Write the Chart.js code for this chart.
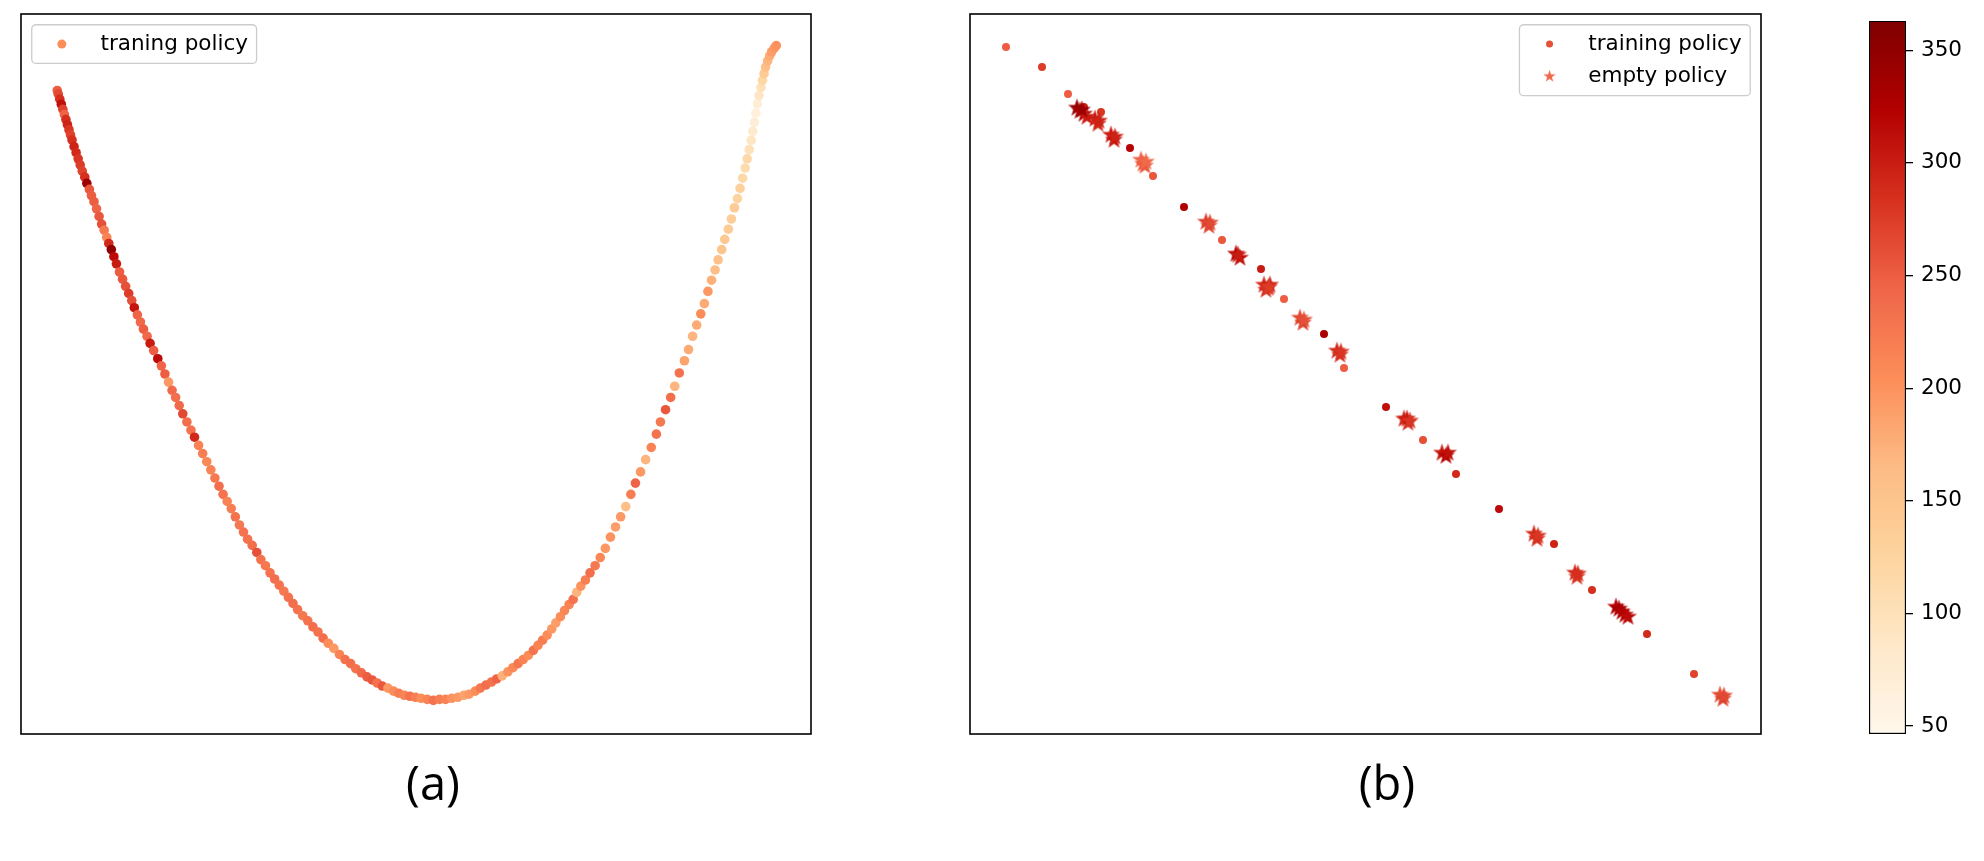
<!DOCTYPE html>
<html>
<head>
<meta charset="utf-8">
<script src="https://cdn.jsdelivr.net/npm/chart.js@4.4.1/dist/chart.umd.min.js"></script>
<style>
  body { margin: 0; background: #fff; width: 1984px; height: 861px; overflow: hidden; position: relative; }
  canvas { position: absolute; top: 0; }
  .cap { position: absolute; width: 200px; text-align: center; font-family: 'Open Sans'; font-size: 47px; line-height: 47px; color: #000; }
</style>
</head>
<body>
<canvas id="chartA" width="900" height="861" style="left:0px"></canvas>
<canvas id="chartB" width="880" height="861" style="left:940px"></canvas>
<canvas id="chartC" width="144" height="861" style="left:1840px"></canvas>
<div class="cap" style="left:333px;top:759px">(a)</div>
<div class="cap" style="left:1287px;top:759px">(b)</div>
<script>
// (a) training policy embedding
var aX = [
  1.13,1.15,1.18,1.21,1.24,1.27,1.30,1.33,1.36,1.39,
  1.42,1.46,1.50,1.54,1.58,1.62,1.67,1.71,1.76,1.80,
  1.85,1.90,1.95,2.00,2.05,2.10,2.14,2.19,2.24,2.29,
  2.35,2.41,2.47,2.53,2.59,2.64,2.70,2.76,2.82,2.89,
  2.95,3.02,3.10,3.17,3.24,3.31,3.38,3.45,3.52,3.59,
  3.67,3.75,3.82,3.90,3.98,4.06,4.14,4.22,4.30,4.38,
  4.46,4.54,4.62,4.70,4.78,4.86,4.95,5.04,5.12,5.21,
  5.30,5.39,5.48,5.57,5.66,5.75,5.84,5.94,6.04,6.14,
  6.24,6.34,6.44,6.55,6.66,6.77,6.88,6.98,7.09,7.20,
  7.30,7.40,7.50,7.61,7.72,7.82,7.93,8.04,8.15,8.26,
  8.38,8.50,8.62,8.74,8.86,8.98,9.10,9.20,9.32,9.42,
  9.53,9.64,9.74,9.85,9.96,10.06,10.16,10.26,10.36,10.46,
  10.55,10.64,10.73,10.82,10.90,10.99,11.07,11.16,11.24,11.31,
  11.39,11.48,11.57,11.67,11.77,11.87,11.97,12.07,12.17,12.27,
  12.37,12.46,12.56,12.66,12.77,12.87,12.95,13.05,13.15,13.23,
  13.32,13.42,13.50,13.58,13.66,13.74,13.81,13.88,13.95,14.02,
  14.08,14.15,14.21,14.28,14.34,14.40,14.46,14.51,14.56,14.61,
  14.65,14.69,14.73,14.76,14.79,14.82,14.85,14.88,14.92,14.95,
  14.98,15.01,15.05,15.09,15.13,15.18,15.22
];
var aY = [
  13.22,13.15,13.05,12.95,12.85,12.75,12.65,12.55,12.45,12.35,
  12.25,12.12,12.00,11.88,11.76,11.64,11.52,11.40,11.28,11.16,
  11.04,10.90,10.75,10.60,10.48,10.34,10.22,10.10,9.96,9.82,
  9.66,9.52,9.38,9.24,9.10,8.96,8.82,8.68,8.54,8.40,
  8.26,8.12,7.96,7.82,7.66,7.50,7.34,7.20,7.04,6.88,
  6.72,6.56,6.42,6.26,6.10,5.94,5.78,5.62,5.46,5.30,
  5.16,5.02,4.86,4.70,4.56,4.42,4.30,4.16,4.02,3.90,
  3.76,3.64,3.52,3.40,3.28,3.16,3.04,2.92,2.82,2.70,
  2.60,2.48,2.38,2.28,2.16,2.06,1.98,1.88,1.80,1.72,
  1.66,1.60,1.54,1.50,1.44,1.40,1.36,1.34,1.32,1.30,
  1.28,1.26,1.28,1.28,1.30,1.32,1.36,1.38,1.44,1.50,
  1.56,1.62,1.68,1.74,1.82,1.90,1.98,2.06,2.14,2.24,
  2.34,2.44,2.54,2.66,2.78,2.90,3.02,3.14,3.24,3.38,
  3.50,3.62,3.76,3.90,4.06,4.24,4.46,4.66,4.86,5.06,
  5.30,5.52,5.74,5.98,6.22,6.48,6.72,6.96,7.20,7.42,
  7.68,7.92,8.14,8.40,8.62,8.84,9.04,9.28,9.50,9.70,
  9.90,10.10,10.30,10.50,10.70,10.92,11.10,11.30,11.50,11.70,
  11.88,12.06,12.24,12.42,12.60,12.78,12.96,13.12,13.28,13.42,
  13.55,13.68,13.80,13.90,13.98,14.05,14.10
];
var aC = [
  250,265,285,310,270,245,285,295,280,270,
  285,295,290,280,275,270,285,340,255,250,
  250,245,255,260,225,215,290,350,315,300,
  250,255,260,275,260,305,245,240,250,240,
  300,250,315,245,250,195,240,235,240,265,
  235,230,290,215,220,210,215,225,235,230,
  215,220,230,225,230,230,235,260,230,225,
  230,235,230,225,230,235,230,225,230,235,
  230,235,205,195,215,230,235,230,240,250,
  255,230,255,195,205,220,215,230,220,205,
  215,230,220,215,200,195,185,195,205,225,
  235,230,245,175,200,210,225,215,205,230,
  215,220,205,195,190,205,210,215,230,170,
  200,220,235,225,210,195,200,190,195,160,
  220,245,195,170,215,230,225,255,235,170,
  230,185,180,170,180,205,180,195,175,160,
  155,150,145,140,135,140,125,130,115,110,
  115,100,90,80,70,65,70,90,100,120,
  140,160,170,180,190,195,200
];
var aXRange = [0.42, 15.90];
var aYRange = [0.60, 14.72];

// (b) training policy points
var bX = [3.6, 7.2, 9.8, 11.4, 13.1, 16.0, 18.3, 21.4, 25.2, 29.1, 31.4, 35.4, 37.4, 41.6, 45.3, 48.6, 52.9, 58.4, 62.2, 67.7, 72.4];
var bY = [68.7, 66.7, 64.0, 62.7, 62.2, 58.6, 55.8, 52.7, 49.4, 46.5, 43.5, 40.0, 36.6, 32.7, 29.4, 26.0, 22.5, 19.0, 14.4, 10.0, 6.0];
var bC = [250, 275, 250, 290, 280, 320, 255, 325, 255, 300, 250, 330, 250, 310, 260, 290, 315, 295, 285, 290, 270];

// (b) empty policy points
var sX = [10.7, 11.0, 11.4, 11.7, 11.2, 12.5, 12.8, 12.9, 14.1, 14.4, 14.5, 17.1, 17.5, 17.3, 17.6,
          23.6, 23.9, 24.0, 26.6, 27.0, 26.8, 29.4, 29.8, 30.0, 29.6, 29.9, 33.0, 33.3, 33.4,
          36.7, 37.0, 37.1, 43.4, 43.8, 43.7, 44.0, 47.2, 47.6, 47.8, 56.4, 56.7, 56.8,
          60.5, 60.7, 60.8, 64.6, 64.9, 65.2, 65.5, 65.8, 75.0, 75.3, 75.4];
var sY = [62.6, 62.3, 62.0, 61.7, 62.4, 61.5, 61.0, 61.3, 59.9, 59.4, 59.7, 57.4, 56.8, 57.0, 57.2,
          51.2, 50.8, 51.1, 48.0, 47.6, 47.9, 44.9, 44.6, 44.9, 44.4, 44.7, 41.6, 41.1, 41.4,
          38.3, 37.9, 38.2, 31.5, 31.1, 31.5, 31.3, 28.1, 27.8, 28.1, 20.0, 19.5, 19.8,
          16.1, 15.7, 16.0, 12.7, 12.5, 12.2, 11.9, 11.7, 3.9, 3.5, 3.8];
var sC = [345, 330, 320, 300, 340, 300, 290, 295, 300, 305, 295, 245, 255, 250, 240,
          275, 270, 265, 320, 310, 300, 290, 280, 295, 285, 275, 265, 270, 260,
          290, 285, 280, 295, 285, 300, 280, 300, 320, 310, 290, 285, 280,
          290, 280, 285, 320, 330, 325, 320, 315, 260, 270, 265];
var bXRange = [0, 79.1];
var bYRange = [0, 72.0];

// colorbar
var cMin = 46.5, cMax = 363;
var colorTicks = [50, 100, 150, 200, 250, 300, 350];

Chart.defaults.font.family = 'DejaVu Sans';
Chart.defaults.color = '#000';

var orrd = ['#fff7ec', '#fee8c8', '#fdd49e', '#fdbb84', '#fc8d59', '#ef6548', '#d7301f', '#b30000', '#7f0000'];

function hexRgb(h) {
  return [parseInt(h.substr(1, 2), 16), parseInt(h.substr(3, 2), 16), parseInt(h.substr(5, 2), 16)];
}

function cmap(v) {
  var t = (v - cMin) / (cMax - cMin);
  t = Math.max(0, Math.min(1, t));
  var p = t * (orrd.length - 1);
  var i = Math.min(Math.floor(p), orrd.length - 2);
  var f = p - i;
  var a = hexRgb(orrd[i]), b = hexRgb(orrd[i + 1]);
  var r = Math.round(a[0] + (b[0] - a[0]) * f);
  var g = Math.round(a[1] + (b[1] - a[1]) * f);
  var bl = Math.round(a[2] + (b[2] - a[2]) * f);
  return 'rgb(' + r + ',' + g + ',' + bl + ')';
}

var starCache = {};
function starImage(color, R) {
  var key = color + '_' + R;
  if (starCache[key]) return starCache[key];
  var size = Math.ceil(2 * R) + 2;
  var cv = document.createElement('canvas');
  cv.width = size;
  cv.height = size;
  var c = cv.getContext('2d');
  c.beginPath();
  for (var k = 0; k < 10; k++) {
    var ang = -Math.PI / 2 + k * Math.PI / 5;
    var rad = (k % 2 === 0) ? R : R * 0.382;
    var px = size / 2 + rad * Math.cos(ang);
    var py = size / 2 + rad * Math.sin(ang);
    if (k === 0) c.moveTo(px, py); else c.lineTo(px, py);
  }
  c.closePath();
  c.fillStyle = color;
  c.fill();
  starCache[key] = cv;
  return cv;
}

// black box round the plot area
var frame = {
  id: 'frame',
  afterDatasetsDraw: function(chart) {
    var a = chart.chartArea, ctx = chart.ctx;
    ctx.save();
    ctx.strokeStyle = '#000';
    ctx.lineWidth = 1.6;
    ctx.strokeRect(a.left, a.top, a.right - a.left, a.bottom - a.top);
    ctx.restore();
  }
};

// matplotlib-like legend inside the axes
var boxLegend = {
  id: 'boxLegend',
  afterDraw: function(chart, args, opts) {
    var ctx = chart.ctx, area = chart.chartArea;
    var fs = opts.fontSize;
    ctx.save();
    ctx.font = fs + 'px "DejaVu Sans"';
    var textW = 0;
    opts.items.forEach(function(it) { textW = Math.max(textW, ctx.measureText(it.label).width); });
    var pad = 0.4 * fs, handle = 2 * fs, gap = 0.8 * fs, axPad = 0.5 * fs, rowH = fs, spacing = 0.5 * fs;
    var w = 2 * pad + handle + gap + textW;
    var h = 2 * pad + opts.items.length * rowH + (opts.items.length - 1) * spacing;
    var x0 = opts.align === 'right' ? area.right - axPad - w : area.left + axPad;
    var y0 = area.top + axPad;
    ctx.beginPath();
    ctx.roundRect(x0, y0, w, h, 0.2 * fs);
    ctx.fillStyle = 'rgba(255,255,255,0.8)';
    ctx.fill();
    ctx.strokeStyle = '#cccccc';
    ctx.lineWidth = 1.3;
    ctx.stroke();
    opts.items.forEach(function(it, i) {
      var cy = y0 + pad + rowH / 2 + i * (rowH + spacing);
      var cx = x0 + pad + handle / 2;
      if (it.kind === 'star') {
        var img = starImage(it.color, it.size);
        ctx.drawImage(img, cx - img.width / 2, cy - img.height / 2);
      } else {
        ctx.beginPath();
        ctx.arc(cx, cy, it.size, 0, 2 * Math.PI);
        ctx.fillStyle = it.color;
        ctx.fill();
      }
      ctx.fillStyle = '#000';
      ctx.textBaseline = 'middle';
      ctx.textAlign = 'left';
      ctx.fillText(it.label, x0 + pad + handle + gap, cy);
    });
    ctx.restore();
  }
};

function toPoints(xs, ys) {
  return xs.map(function(x, i) { return { x: x, y: ys[i] }; });
}

new Chart(document.getElementById('chartA'), {
  type: 'scatter',
  data: {
    datasets: [{
      label: 'traning policy',
      data: toPoints(aX, aY),
      pointRadius: 4.8,
      pointBorderWidth: 0,
      pointBackgroundColor: function(ctx) { return cmap(aC[ctx.dataIndex]); }
    }]
  },
  options: {
    responsive: false,
    animation: false,
    layout: { padding: { left: 21, top: 14, right: 89, bottom: 127 } },
    plugins: {
      legend: { display: false },
      tooltip: { enabled: false },
      boxLegend: { fontSize: 21.5, align: 'left', items: [{ label: 'traning policy', kind: 'circle', color: '#fc8d59', size: 4.5 }] }
    },
    scales: {
      x: { type: 'linear', display: false, min: aXRange[0], max: aXRange[1] },
      y: { type: 'linear', display: false, min: aYRange[0], max: aYRange[1] }
    }
  },
  plugins: [frame, boxLegend]
});

new Chart(document.getElementById('chartB'), {
  type: 'scatter',
  data: {
    datasets: [{
      label: 'training policy',
      order: 1,
      data: toPoints(bX, bY),
      pointRadius: 4,
      pointBorderWidth: 0,
      pointBackgroundColor: function(ctx) { return cmap(bC[ctx.dataIndex]); }
    }, {
      label: 'empty policy',
      order: 0,
      data: toPoints(sX, sY),
      pointRadius: 9.5,
      pointBorderWidth: 0,
      pointStyle: function(ctx) { return starImage(cmap(sC[ctx.dataIndex]), 9.5); }
    }]
  },
  options: {
    responsive: false,
    animation: false,
    layout: { padding: { left: 30, top: 14, right: 59, bottom: 127 } },
    plugins: {
      legend: { display: false },
      tooltip: { enabled: false },
      boxLegend: { fontSize: 21.5, align: 'right', items: [
        { label: 'training policy', kind: 'circle', color: '#e4503a', size: 3.5 },
        { label: 'empty policy', kind: 'star', color: '#f0694c', size: 6.5 }
      ] }
    },
    scales: {
      x: { type: 'linear', display: false, min: bXRange[0], max: bXRange[1] },
      y: { type: 'linear', display: false, min: bYRange[0], max: bYRange[1] }
    }
  },
  plugins: [frame, boxLegend]
});

new Chart(document.getElementById('chartC'), {
  type: 'bar',
  data: {
    labels: [''],
    datasets: [{
      data: [[cMin, cMax]],
      barPercentage: 1,
      categoryPercentage: 1,
      borderColor: '#000',
      borderWidth: 1.5,
      borderSkipped: false,
      backgroundColor: function(ctx) {
        var chart = ctx.chart;
        if (!chart.chartArea) return orrd[4];
        var ys = chart.scales.y;
        var g = chart.ctx.createLinearGradient(0, ys.getPixelForValue(cMin), 0, ys.getPixelForValue(cMax));
        orrd.forEach(function(c, i) { g.addColorStop(i / (orrd.length - 1), c); });
        return g;
      }
    }]
  },
  options: {
    responsive: false,
    animation: false,
    layout: { padding: { left: 29, top: 14, right: 0, bottom: 127 } },
    plugins: { legend: { display: false }, tooltip: { enabled: false } },
    scales: {
      x: { display: false },
      y: {
        position: 'right',
        min: cMin,
        max: cMax,
        afterFit: function(s) { s.width = 78; },
        afterBuildTicks: function(s) { s.ticks = colorTicks.map(function(v) { return { value: v }; }); },
        grid: { drawOnChartArea: false, color: '#000', lineWidth: 1.3, tickLength: 7 },
        border: { display: false },
        ticks: { color: '#000', font: { size: 21.5 }, padding: 8 }
      }
    }
  }
});
</script>
</body>
</html>
